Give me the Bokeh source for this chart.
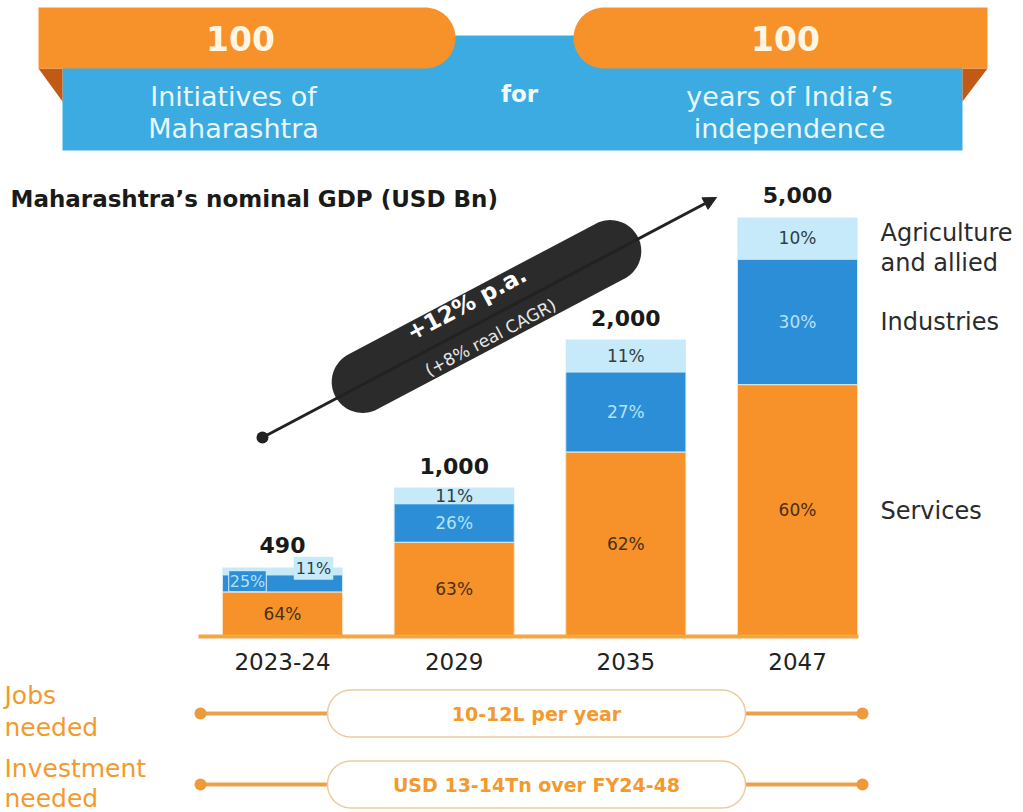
import numpy as np
from bokeh.plotting import figure
from bokeh.models import Range1d, Arrow, NormalHead
from bokeh.core.properties import value
from bokeh.embed import file_html
from bokeh.resources import INLINE

# ---------------- data ----------------
categories = ["2023-24", "2029", "2035", "2047"]
gdp_total = [490, 1000, 2000, 5000]            # USD Bn (labels)
bar_drawn = [460, 1000, 2000, 2825]            # heights as drawn in the source (not to scale)
services = [64, 63, 62, 60]
industries = [25, 26, 27, 30]
agriculture = [11, 11, 11, 10]
jobs_text = "10-12L per year"
invest_text = "USD 13-14Tn over FY24-48"

W, H = 1023, 812
FONT = "DejaVu Sans"
ORANGE = "#F7922A"
DBLUE = "#2C8ED6"
LBLUE = "#C6EAF9"
BANNER_BLUE = "#3BABE1"
FOLD = "#C05A14"


def Y(py):
    return H - py


p = figure(width=W, height=H, x_range=Range1d(0, W), y_range=Range1d(0, H),
           output_backend="svg", toolbar_location=None, min_border=0)
p.axis.visible = False
p.grid.visible = False
p.outline_line_color = None
p.background_fill_color = "white"

# scales for the bar chart section
PX_PER_UNIT = 0.148
BASE_PY = 635
gdp_start = -(H - BASE_PY) / PX_PER_UNIT
p.extra_y_ranges = {"gdp": Range1d(gdp_start, gdp_start + H / PX_PER_UNIT)}
STEP = 171.67
C0 = 282
cat_start = -C0 / STEP
p.extra_x_ranges = {"cat": Range1d(cat_start, cat_start + W / STEP)}

# ---------------- top banner ----------------
def rounded_tab(x0, x1, y0, y1, round_right):
    r = (y1 - y0) / 2
    cy = (y0 + y1) / 2
    if round_right:
        t = np.linspace(np.pi / 2, -np.pi / 2, 40)
        cx = x1 - r
        xs = [x0, x0] + list(cx + r * np.cos(t))
        ys = [y1, y0] + list(cy - r * np.sin(t))
    else:
        t = np.linspace(np.pi / 2, 3 * np.pi / 2, 40)
        cx = x0 + r
        xs = [x1, x1] + list(cx + r * np.cos(t))[::-1]
        ys = [y0, y1] + list(cy - r * np.sin(t))[::-1]
    return xs, [Y(v) for v in ys]

p.quad(left=62, right=962, top=Y(35), bottom=Y(150), fill_color=BANNER_BLUE, line_color=None)
p.patch([38, 62, 62], [Y(68), Y(68), Y(101)], fill_color=FOLD, line_color=None)
p.patch([962, 987, 962], [Y(68), Y(68), Y(101)], fill_color=FOLD, line_color=None)
xs, ys = rounded_tab(38, 455, 7, 68, True)
p.patch(xs, ys, fill_color=ORANGE, line_color=None)
xs, ys = rounded_tab(573, 987, 7, 68, False)
p.patch(xs, ys, fill_color=ORANGE, line_color=None)

p.text(x=[240, 785], y=[Y(38), Y(38)], text=["100", "100"], text_align="center",
       text_baseline="middle", text_font=value(FONT), text_font_style="bold",
       text_font_size="33px", text_color="#FFF7E3")
p.text(x=[233, 233, 789, 789], y=[Y(96), Y(128), Y(96), Y(128)],
       text=["Initiatives of", "Maharashtra", "years of India\u2019s", "independence"],
       text_align="center", text_baseline="middle", text_font=value(FONT),
       text_font_size="27px", text_color="#EAF7FD")
p.text(x=[519], y=[Y(93)], text=["for"], text_align="center", text_baseline="middle",
       text_font=value(FONT), text_font_style="bold", text_font_size="23px", text_color="#F2FAFE")

# ---------------- title ----------------
p.text(x=[10], y=[Y(198)], text=["Maharashtra\u2019s nominal GDP (USD Bn)"], text_align="left",
       text_baseline="middle", text_font=value(FONT), text_font_style="bold",
       text_font_size="23px", text_color="#1A1A1A")

# ---------------- growth arrow & pill ----------------
p.scatter(x=[262], y=[Y(437)], size=12, fill_color="#222222", line_color=None)
p.add_layout(Arrow(x_start=262, y_start=Y(437), x_end=716, y_end=Y(197), line_width=3,
                   line_color="#222222",
                   end=NormalHead(size=13, fill_color="#222222", line_color="#222222")))
ang = np.arctan2(437 - 197, 716 - 262)
d = np.array([np.cos(ang), np.sin(ang)])
C = np.array([486, Y(316)])
L, R = 140, 31
c1, c2 = C - L * d, C + L * d
t2 = np.linspace(ang - np.pi / 2, ang + np.pi / 2, 40)
t1 = np.linspace(ang + np.pi / 2, ang + 3 * np.pi / 2, 40)
px = list(c2[0] + R * np.cos(t2)) + list(c1[0] + R * np.cos(t1))
py = list(c2[1] + R * np.sin(t2)) + list(c1[1] + R * np.sin(t1))
p.patch(px, py, fill_color="#2B2B2B", line_color=None)
p.text(x=[466], y=[Y(303)], text=["+12% p.a."], angle=ang, text_align="center",
       text_baseline="middle", text_font=value(FONT), text_font_style="bold",
       text_font_size="23px", text_color="white")
p.text(x=[490], y=[Y(337)], text=["(+8% real CAGR)"], angle=ang, text_align="center",
       text_baseline="middle", text_font=value(FONT), text_font_size="17px", text_color="#E6E6E6")

# ---------------- bars ----------------
idx = np.arange(len(categories))
h = np.array(bar_drawn, dtype=float)
s_top = h * np.array(services) / 100
i_top = s_top + h * np.array(industries) / 100
a_top = h
BW = 0.70
p.vbar(x=idx, bottom=0, top=s_top, width=BW, fill_color=ORANGE, line_color="#FBE3C4",
       line_width=1, x_range_name="cat", y_range_name="gdp")
p.vbar(x=idx, bottom=s_top, top=i_top, width=BW, fill_color=DBLUE, line_color="#D8EEF9",
       line_width=1, x_range_name="cat", y_range_name="gdp")
p.vbar(x=idx, bottom=i_top, top=a_top, width=BW, fill_color=LBLUE, line_color=None,
       x_range_name="cat", y_range_name="gdp")

p.segment(x0=[198], y0=[Y(636)], x1=[858], y1=[Y(636)], line_color="#F4A640", line_width=4)

PCT = "17px"
big = idx[1:]
p.text(x=big, y=(s_top / 2)[1:], text=[f"{v}%" for v in services[1:]], text_align="center",
       text_baseline="middle", text_font=value(FONT), text_font_size=PCT,
       text_color="#4A3015", x_range_name="cat", y_range_name="gdp")
p.text(x=big, y=((s_top + i_top) / 2)[1:], text=[f"{v}%" for v in industries[1:]],
       text_align="center", text_baseline="middle", text_font=value(FONT),
       text_font_size=PCT, text_color="#B4E2F7", x_range_name="cat", y_range_name="gdp")
p.text(x=big, y=((i_top + a_top) / 2)[1:], text=[f"{v}%" for v in agriculture[1:]],
       text_align="center", text_baseline="middle", text_font=value(FONT),
       text_font_size=PCT, text_color="#2E3E48", x_range_name="cat", y_range_name="gdp")
p.text(x=[0], y=[s_top[0] / 2], text=[f"{services[0]}%"], text_align="center",
       text_baseline="middle", text_font=value(FONT), text_font_size=PCT,
       text_color="#4A3015", x_range_name="cat", y_range_name="gdp")
p.text(x=[0], y=[(s_top[0] + i_top[0]) / 2 + 15], text=[f"{industries[0]}%"], x_offset=-35,
       text_align="center", text_baseline="middle", text_font=value(FONT),
       text_font_size="16px", text_color="#B4E2F7", background_fill_color=DBLUE,
       border_line_color="#D6F0FB", padding=1, x_range_name="cat", y_range_name="gdp")
p.text(x=[0], y=[(i_top[0] + a_top[0]) / 2 + 20], text=[f"{agriculture[0]}%"], x_offset=31,
       text_align="center", text_baseline="middle", text_font=value(FONT),
       text_font_size="16px", text_color="#2E3E48", background_fill_color=LBLUE,
       border_line_color=None, padding=2, x_range_name="cat", y_range_name="gdp")

p.text(x=idx, y=h + 22 / PX_PER_UNIT, text=[f"{v:,}" for v in gdp_total], text_align="center",
       text_baseline="middle", text_font=value(FONT), text_font_style="bold",
       text_font_size="22px", text_color="#1A1A1A", x_range_name="cat", y_range_name="gdp")
p.text(x=idx, y=[-26 / PX_PER_UNIT] * len(idx), text=categories, text_align="center",
       text_baseline="middle", text_font=value(FONT), text_font_size="23px",
       text_color="#222222", x_range_name="cat", y_range_name="gdp")

p.text(x=[880, 880, 880, 880], y=[Y(232), Y(262), Y(321), Y(510)],
       text=["Agriculture", "and allied", "Industries", "Services"], text_align="left",
       text_baseline="middle", text_font=value(FONT), text_font_size="24px", text_color="#2B2B2B")

# ---------------- bottom rows ----------------
ROW_OR = "#F39A2E"
p.text(x=[4, 4, 4, 4], y=[Y(695), Y(727), Y(768), Y(798)],
       text=["Jobs", "needed", "Investment", "needed"], text_align="left", text_baseline="middle",
       text_font=value(FONT), text_font_size="25px", text_color=ROW_OR)
for cy, label in [(713, jobs_text), (784, invest_text)]:
    p.segment(x0=[200], y0=[Y(cy)], x1=[862], y1=[Y(cy)], line_color="#EBA14A", line_width=4)
    p.scatter(x=[200, 862], y=[Y(cy), Y(cy)], size=12, fill_color="#EE9A3A", line_color=None)
    r = 23.5
    t = np.linspace(-np.pi / 2, np.pi / 2, 30)
    xs = list(745 - r + r * np.cos(t)) + list(327 + r + r * np.cos(t + np.pi))
    ys = list(Y(cy) + r * np.sin(t)) + list(Y(cy) + r * np.sin(t + np.pi))
    p.patch(xs, ys, fill_color="white", line_color="#EDCB9F", line_width=1.5)
    p.text(x=[536], y=[Y(cy)], text=[label], text_align="center", text_baseline="middle",
           text_font=value(FONT), text_font_style="bold", text_font_size="19px",
           text_color=ROW_OR)

open("out.html", "w").write(file_html(p, INLINE))
